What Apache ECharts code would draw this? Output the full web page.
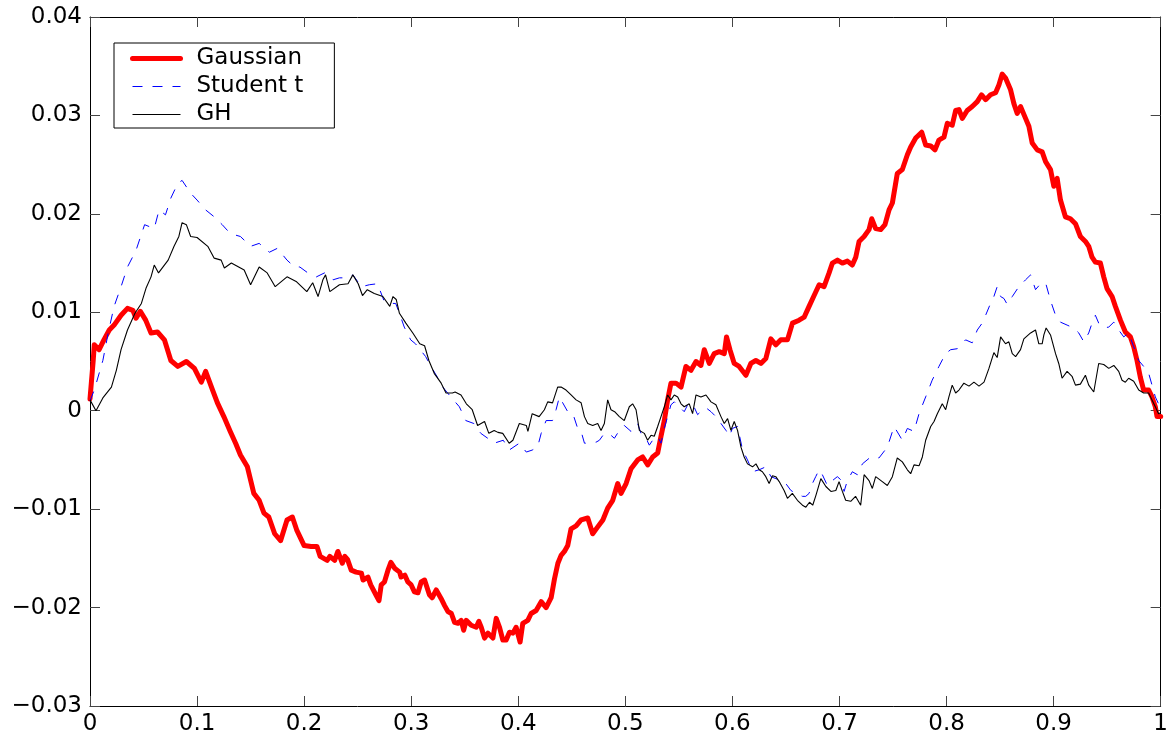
<!DOCTYPE html>
<html>
<head>
<meta charset="utf-8">
<title>Gaussian / Student t / GH</title>
<script src="https://cdn.jsdelivr.net/npm/echarts@6/dist/echarts.min.js"></script>
<style>
  html, body { margin: 0; padding: 0; background: #fff; }
  #chart { width: 1171px; height: 740px; }
</style>
</head>
<body>
<div id="chart"></div>
<script>
// Axis ranges and tick spacing
const xTicks = [0, 0.1, 0.2, 0.3, 0.4, 0.5, 0.6, 0.7, 0.8, 0.9, 1];
const yTicks = [-0.03, -0.02, -0.01, 0, 0.01, 0.02, 0.03, 0.04];

const seriesNames = ['Gaussian', 'Student t', 'GH'];

// Sample paths as [x, value] pairs
const gaussian = [[0,0.0012],[0.003,0.0051],[0.004,0.0067],[0.0085,0.0062],[0.013,0.0072],[0.018,0.0082],[0.0225,0.0087],[0.029,0.0097],[0.035,0.0104],[0.040,0.0102],[0.043,0.0094],[0.047,0.0101],[0.052,0.0092],[0.057,0.0079],[0.063,0.0080],[0.0695,0.0072],[0.0755,0.0051],[0.082,0.0045],[0.090,0.0050],[0.0975,0.0043],[0.104,0.0029],[0.108,0.0040],[0.1145,0.0021],[0.119,0.0008],[0.125,-0.0006],[0.131,-0.0021],[0.136,-0.0033],[0.1405,-0.0045],[0.147,-0.0057],[0.153,-0.0084],[0.158,-0.0091],[0.1625,-0.0104],[0.167,-0.0108],[0.1725,-0.0125],[0.178,-0.0132],[0.184,-0.0111],[0.189,-0.0108],[0.193,-0.0121],[0.200,-0.0137],[0.2065,-0.0138],[0.212,-0.0138],[0.215,-0.0148],[0.2215,-0.0152],[0.224,-0.0148],[0.2285,-0.0152],[0.2315,-0.0143],[0.2357,-0.0155],[0.238,-0.0148],[0.2405,-0.0151],[0.244,-0.0162],[0.2485,-0.0164],[0.2535,-0.0165],[0.255,-0.0172],[0.2596,-0.0169],[0.2622,-0.0177],[0.267,-0.0187],[0.2699,-0.0193],[0.272,-0.0177],[0.275,-0.0174],[0.2783,-0.0162],[0.281,-0.0154],[0.2845,-0.0160],[0.2892,-0.0164],[0.2905,-0.0169],[0.294,-0.0167],[0.2969,-0.0174],[0.300,-0.0177],[0.303,-0.0184],[0.3063,-0.0185],[0.3093,-0.0174],[0.3125,-0.0172],[0.317,-0.0187],[0.3196,-0.0190],[0.3234,-0.0182],[0.328,-0.0191],[0.3312,-0.0198],[0.3343,-0.0204],[0.3375,-0.0206],[0.3405,-0.0215],[0.3437,-0.0216],[0.3467,-0.0213],[0.349,-0.0223],[0.3514,-0.0213],[0.356,-0.0218],[0.3607,-0.0220],[0.3632,-0.0214],[0.3654,-0.0220],[0.3685,-0.0231],[0.3717,-0.0226],[0.3763,-0.0231],[0.3794,-0.0211],[0.3825,-0.0220],[0.3856,-0.0233],[0.3887,-0.0233],[0.3918,-0.0225],[0.395,-0.0226],[0.398,-0.0220],[0.4017,-0.0235],[0.4042,-0.0216],[0.4089,-0.0213],[0.412,-0.0206],[0.4167,-0.0203],[0.4214,-0.0194],[0.426,-0.0200],[0.4307,-0.0190],[0.4338,-0.0171],[0.437,-0.0155],[0.440,-0.0147],[0.4431,-0.0143],[0.4462,-0.0137],[0.4493,-0.0120],[0.454,-0.0117],[0.4587,-0.0111],[0.4649,-0.0109],[0.4695,-0.0125],[0.4742,-0.0118],[0.479,-0.0111],[0.4835,-0.0099],[0.4882,-0.0091],[0.4929,-0.0074],[0.496,-0.0084],[0.5007,-0.0074],[0.5053,-0.0059],[0.5115,-0.0050],[0.5162,-0.0047],[0.5209,-0.0055],[0.5255,-0.0047],[0.5302,-0.0043],[0.5333,-0.0026],[0.5364,-0.0010],[0.5395,0.0011],[0.5426,0.0028],[0.5473,0.0028],[0.552,0.0024],[0.5566,0.0045],[0.5613,0.0041],[0.566,0.0050],[0.5706,0.0046],[0.5737,0.0062],[0.5784,0.0048],[0.583,0.0058],[0.5877,0.0060],[0.5924,0.0058],[0.5945,0.0075],[0.5977,0.0062],[0.6017,0.0048],[0.6063,0.0045],[0.6126,0.0036],[0.6172,0.0048],[0.6219,0.0051],[0.6266,0.0048],[0.6312,0.0053],[0.6359,0.0073],[0.6406,0.0067],[0.6452,0.0072],[0.6514,0.0072],[0.6561,0.0089],[0.6623,0.0092],[0.667,0.0095],[0.6716,0.0106],[0.6763,0.0117],[0.681,0.0128],[0.6856,0.0126],[0.6903,0.0140],[0.6934,0.0150],[0.6981,0.0153],[0.7027,0.0150],[0.7074,0.0152],[0.712,0.0148],[0.7152,0.0156],[0.7183,0.0172],[0.723,0.0177],[0.7276,0.0184],[0.7301,0.0195],[0.7338,0.0185],[0.7385,0.0184],[0.7425,0.0189],[0.7463,0.0204],[0.7494,0.0211],[0.754,0.0241],[0.7587,0.0245],[0.7634,0.0260],[0.7665,0.0268],[0.7712,0.0277],[0.7768,0.0283],[0.7805,0.0270],[0.7852,0.0269],[0.7892,0.0265],[0.7929,0.0275],[0.7976,0.0278],[0.8007,0.0292],[0.8053,0.0290],[0.8085,0.0305],[0.8116,0.0306],[0.8147,0.0297],[0.8193,0.0305],[0.824,0.0309],[0.8287,0.0314],[0.8327,0.0321],[0.8365,0.0316],[0.8411,0.0321],[0.8458,0.0323],[0.8489,0.0331],[0.852,0.0342],[0.8551,0.0338],[0.8598,0.0326],[0.8629,0.0312],[0.866,0.0302],[0.8691,0.0309],[0.8738,0.0297],[0.8769,0.0289],[0.88,0.0272],[0.8847,0.0265],[0.8893,0.0263],[0.8925,0.0253],[0.8971,0.0245],[0.9002,0.0228],[0.9033,0.0236],[0.9064,0.0214],[0.911,0.0197],[0.9157,0.0195],[0.9204,0.0190],[0.925,0.0177],[0.9297,0.0172],[0.9328,0.0167],[0.9359,0.0156],[0.939,0.0151],[0.9437,0.0150],[0.9468,0.0136],[0.9499,0.0124],[0.9546,0.0116],[0.9577,0.0106],[0.9624,0.0092],[0.967,0.0080],[0.9717,0.0075],[0.9748,0.0065],[0.9779,0.0051],[0.981,0.0034],[0.9841,0.0021],[0.9888,0.0021],[0.9919,0.0014],[0.995,0.0004],[0.9966,-0.0006],[1,-0.0006]];

const studentT = [[0,0.0010],[0.004,0.0021],[0.012,0.0051],[0.017,0.0079],[0.0225,0.0106],[0.029,0.0126],[0.035,0.0146],[0.043,0.0163],[0.051,0.0189],[0.060,0.0185],[0.0645,0.0204],[0.0705,0.0199],[0.0755,0.0216],[0.082,0.0231],[0.086,0.0234],[0.094,0.0221],[0.100,0.0214],[0.108,0.0204],[0.116,0.0197],[0.1235,0.0189],[0.131,0.0180],[0.1405,0.0177],[0.150,0.0167],[0.158,0.0170],[0.1675,0.0161],[0.175,0.0165],[0.184,0.0153],[0.191,0.0146],[0.196,0.0146],[0.2035,0.0140],[0.2115,0.0136],[0.219,0.0140],[0.227,0.0133],[0.233,0.0135],[0.2415,0.0135],[0.2455,0.0138],[0.2535,0.0126],[0.261,0.0128],[0.2685,0.0129],[0.2745,0.0112],[0.2795,0.0109],[0.2855,0.0109],[0.289,0.0099],[0.2935,0.0085],[0.2995,0.0072],[0.304,0.0068],[0.3135,0.0055],[0.3185,0.0045],[0.325,0.0033],[0.3295,0.0024],[0.337,0.0014],[0.345,0.0004],[0.351,-0.0010],[0.3585,-0.0013],[0.365,-0.0023],[0.3715,-0.0028],[0.3775,-0.0033],[0.386,-0.0030],[0.3915,-0.0040],[0.401,-0.0033],[0.4075,-0.0042],[0.413,-0.0040],[0.418,-0.0037],[0.4214,-0.0023],[0.426,-0.0010],[0.432,-0.0010],[0.4353,0.0001],[0.4384,0.0014],[0.4462,-0.0001],[0.451,-0.0003],[0.4555,-0.0018],[0.4587,-0.0021],[0.4618,-0.0033],[0.4665,-0.0033],[0.4726,-0.0032],[0.4758,-0.0030],[0.4804,-0.0023],[0.4866,-0.0025],[0.4898,-0.0028],[0.4944,-0.0020],[0.499,-0.0015],[0.5053,-0.0021],[0.507,-0.0023],[0.5115,-0.0013],[0.5146,-0.0023],[0.5193,-0.0028],[0.5224,-0.0035],[0.5255,-0.0030],[0.5302,-0.0026],[0.5333,-0.0033],[0.5364,-0.0018],[0.5395,-0.0006],[0.5426,0.0006],[0.5457,0.0009],[0.5504,0.0004],[0.555,-0.0001],[0.5582,0.0006],[0.5628,0.0007],[0.5675,-0.0004],[0.5722,0.0001],[0.5753,0.0003],[0.58,-0.0001],[0.5846,-0.0006],[0.5893,-0.0013],[0.594,-0.0020],[0.5971,-0.0026],[0.6,-0.0018],[0.6048,-0.0016],[0.6095,-0.0040],[0.6141,-0.0050],[0.6188,-0.0062],[0.625,-0.0060],[0.6312,-0.0057],[0.636,-0.0067],[0.6406,-0.0069],[0.645,-0.0071],[0.6499,-0.0074],[0.6546,-0.0081],[0.6592,-0.0084],[0.6654,-0.0087],[0.6685,-0.0087],[0.6716,-0.0084],[0.6747,-0.0074],[0.6778,-0.0067],[0.681,-0.0060],[0.684,-0.0065],[0.6887,-0.0076],[0.6934,-0.0071],[0.698,-0.0067],[0.7011,-0.0070],[0.7043,-0.0082],[0.7074,-0.0071],[0.712,-0.0062],[0.7167,-0.0065],[0.7214,-0.0054],[0.7292,-0.0047],[0.7369,-0.0048],[0.7447,-0.0037],[0.751,-0.0016],[0.7587,-0.0030],[0.7634,-0.0018],[0.7696,-0.0021],[0.7743,-0.0003],[0.7805,0.0014],[0.7866,0.0031],[0.7929,0.0045],[0.7991,0.0058],[0.8038,0.0062],[0.81,0.0063],[0.8178,0.0072],[0.824,0.0069],[0.8287,0.0082],[0.8333,0.0089],[0.8365,0.0097],[0.8411,0.0109],[0.8442,0.0116],[0.8473,0.0126],[0.8505,0.0116],[0.8536,0.0114],[0.8567,0.0108],[0.8614,0.0116],[0.8675,0.0126],[0.8738,0.0133],[0.8785,0.0138],[0.8831,0.0123],[0.8878,0.0129],[0.8925,0.0130],[0.8971,0.0112],[0.9018,0.0097],[0.9064,0.0090],[0.9126,0.0087],[0.9188,0.0084],[0.9235,0.0079],[0.9282,0.0070],[0.9328,0.0079],[0.9359,0.0089],[0.939,0.0097],[0.9421,0.0089],[0.9468,0.0084],[0.9515,0.0085],[0.9562,0.0090],[0.9608,0.0082],[0.9655,0.0075],[0.97,0.0079],[0.9748,0.0065],[0.9795,0.0051],[0.9841,0.0045],[0.9888,0.0038],[0.9919,0.0026],[0.995,0.0014],[0.998,0.0007],[1,0.0002]];

const gh = [[0,0.0011],[0.0056,0.0000],[0.012,0.0013],[0.02,0.0024],[0.0246,0.0041],[0.029,0.0062],[0.035,0.0082],[0.042,0.0099],[0.048,0.0109],[0.0525,0.0125],[0.057,0.0136],[0.060,0.0148],[0.064,0.0140],[0.073,0.0153],[0.0785,0.0167],[0.083,0.0177],[0.086,0.0191],[0.090,0.0189],[0.094,0.0177],[0.100,0.0176],[0.11,0.0167],[0.116,0.0155],[0.1225,0.0153],[0.1255,0.0145],[0.132,0.0150],[0.144,0.0143],[0.150,0.0128],[0.158,0.0146],[0.1655,0.0140],[0.173,0.0126],[0.184,0.0136],[0.193,0.0131],[0.2025,0.0121],[0.208,0.0130],[0.213,0.0116],[0.2175,0.0133],[0.22,0.0138],[0.224,0.0121],[0.233,0.0128],[0.241,0.0129],[0.2455,0.0138],[0.2505,0.0129],[0.2545,0.0117],[0.259,0.0123],[0.2655,0.0119],[0.2735,0.0116],[0.280,0.0106],[0.283,0.0116],[0.286,0.0113],[0.289,0.0099],[0.295,0.0089],[0.3015,0.0079],[0.308,0.0068],[0.3125,0.0066],[0.3165,0.0051],[0.3215,0.0038],[0.328,0.0028],[0.3325,0.0018],[0.3385,0.0018],[0.341,0.0019],[0.3465,0.0016],[0.3515,0.0007],[0.357,0.0001],[0.362,-0.0015],[0.3685,-0.0011],[0.3725,-0.0023],[0.3775,-0.0020],[0.381,-0.0022],[0.3855,-0.0023],[0.3915,-0.0033],[0.395,-0.0030],[0.401,-0.0013],[0.4075,-0.0015],[0.409,-0.0021],[0.413,-0.0003],[0.4195,-0.0006],[0.4244,0.0001],[0.4275,0.0009],[0.432,0.0008],[0.4368,0.0024],[0.44,0.0024],[0.4446,0.0021],[0.4493,0.0016],[0.454,0.0011],[0.4587,0.0008],[0.4618,-0.0006],[0.4649,-0.0013],[0.4695,-0.0015],[0.4742,-0.0013],[0.4773,-0.0020],[0.4804,-0.0013],[0.4835,0.0011],[0.4866,0.0001],[0.49,-0.0001],[0.4944,-0.0006],[0.499,-0.0010],[0.5037,0.0004],[0.5068,0.0007],[0.51,0.0001],[0.5131,-0.0020],[0.5177,-0.0023],[0.5208,-0.0030],[0.524,-0.0025],[0.527,-0.0026],[0.5302,-0.0016],[0.5333,-0.0006],[0.5364,0.0004],[0.5395,0.0016],[0.5426,0.0011],[0.5457,0.0016],[0.5489,0.0014],[0.552,0.0007],[0.555,0.0004],[0.5597,0.0007],[0.5628,-0.0003],[0.566,0.0016],[0.5706,0.0014],[0.5753,0.0016],[0.58,0.0009],[0.5846,0.0006],[0.5893,-0.0006],[0.5924,-0.0013],[0.5955,-0.0008],[0.5986,-0.0020],[0.6017,-0.0011],[0.6048,-0.0020],[0.608,-0.0037],[0.611,-0.0047],[0.6141,-0.0054],[0.6188,-0.0057],[0.622,-0.0054],[0.625,-0.0060],[0.628,-0.0062],[0.6312,-0.0067],[0.6343,-0.0074],[0.6374,-0.0066],[0.6405,-0.0067],[0.6437,-0.0072],[0.6483,-0.0081],[0.6514,-0.0089],[0.656,-0.0084],[0.6607,-0.0091],[0.6654,-0.0096],[0.6686,-0.0098],[0.672,-0.0093],[0.675,-0.0096],[0.678,-0.0086],[0.6826,-0.0069],[0.6873,-0.0077],[0.692,-0.0082],[0.6966,-0.0081],[0.6996,-0.0072],[0.7027,-0.0082],[0.7058,-0.0091],[0.7105,-0.0092],[0.715,-0.0087],[0.7198,-0.0096],[0.723,-0.0065],[0.7276,-0.0071],[0.7307,-0.0079],[0.7338,-0.0067],[0.74,-0.0072],[0.7447,-0.0076],[0.7494,-0.0067],[0.754,-0.0048],[0.7587,-0.0052],[0.7634,-0.0060],[0.7665,-0.0064],[0.7696,-0.0055],[0.7743,-0.0056],[0.7774,-0.0047],[0.7805,-0.0030],[0.7852,-0.0016],[0.7883,-0.0011],[0.7914,-0.0003],[0.796,0.0007],[0.7992,0.0001],[0.8022,0.0014],[0.8053,0.0026],[0.8085,0.0018],[0.8116,0.0021],[0.8162,0.0028],[0.821,0.0025],[0.8256,0.0029],[0.8303,0.0025],[0.835,0.0029],[0.8396,0.0043],[0.8442,0.0059],[0.8473,0.0054],[0.8505,0.0075],[0.8551,0.0068],[0.8582,0.0070],[0.8614,0.0058],[0.8645,0.0055],[0.8691,0.0062],[0.8722,0.0073],[0.8785,0.0079],[0.8831,0.0082],[0.8862,0.0068],[0.8893,0.0068],[0.8909,0.0077],[0.893,0.0084],[0.8971,0.0077],[0.9018,0.0058],[0.9048,0.0048],[0.9079,0.0033],[0.9126,0.0040],[0.9172,0.0035],[0.9204,0.0026],[0.925,0.0027],[0.9297,0.0036],[0.9328,0.0026],[0.9375,0.0019],[0.9421,0.0048],[0.9468,0.0047],[0.9515,0.0043],[0.9562,0.0046],[0.9608,0.0040],[0.9639,0.0031],[0.967,0.0029],[0.9701,0.0033],[0.9748,0.0030],[0.9795,0.0021],[0.9841,0.0018],[0.9888,0.0018],[0.9919,0.0011],[0.995,0.0004],[0.998,-0.0003],[1,-0.0002]];

const FONT = 'DejaVu Sans';

function yLabel(v) {
  if (Math.abs(v) < 1e-9) return '0';
  return v.toFixed(2).replace('-', '\u2212');
}
function xLabel(v) {
  if (Math.abs(v) < 1e-9) return '0';
  if (Math.abs(v - 1) < 1e-9) return '1';
  return v.toFixed(1);
}

const tickStyle = { show: true, inside: true, length: 10, lineStyle: { color: '#444', width: 1 } };
const axisLineStyle = { show: true, onZero: false, lineStyle: { color: '#000', width: 1 } };

const xMin = xTicks[0], xMax = xTicks[xTicks.length - 1];
const yMin = yTicks[0], yMax = yTicks[yTicks.length - 1];
const xStep = +(xTicks[1] - xTicks[0]).toFixed(4);
const yStep = +(yTicks[1] - yTicks[0]).toFixed(4);

const chart = echarts.init(document.getElementById('chart'), null, { renderer: 'canvas' });

chart.setOption({
  animation: false,
  backgroundColor: '#fff',
  textStyle: { fontFamily: FONT },
  grid: { left: 90, top: 17, right: 9, bottom: 34, containLabel: false },
  xAxis: [
    {
      type: 'value', min: xMin, max: xMax, interval: xStep, position: 'bottom',
      axisLine: axisLineStyle, axisTick: tickStyle, splitLine: { show: false },
      axisLabel: { color: '#000', fontFamily: FONT, fontSize: 23, margin: 7, formatter: xLabel }
    },
    {
      type: 'value', min: xMin, max: xMax, interval: xStep, position: 'top',
      axisLine: axisLineStyle, axisTick: tickStyle, splitLine: { show: false },
      axisLabel: { show: false }
    }
  ],
  yAxis: [
    {
      type: 'value', min: yMin, max: yMax, interval: yStep, position: 'left',
      axisLine: axisLineStyle, axisTick: tickStyle, splitLine: { show: false },
      axisLabel: { color: '#000', fontFamily: FONT, fontSize: 23, margin: 8, formatter: yLabel }
    },
    {
      type: 'value', min: yMin, max: yMax, interval: yStep, position: 'right',
      axisLine: axisLineStyle, axisTick: tickStyle, splitLine: { show: false },
      axisLabel: { show: false }
    }
  ],
  legend: {
    show: true,
    data: seriesNames,
    orient: 'vertical',
    left: 114,
    top: 43,
    backgroundColor: '#fff',
    borderColor: '#000',
    borderWidth: 1,
    padding: [4, 31, 2, 16],
    itemGap: 5,
    itemWidth: 48,
    itemHeight: 14,
    itemStyle: { opacity: 0 },
    lineStyle: { width: 'inherit', type: 'inherit' },
    textStyle: { color: '#000', fontFamily: FONT, fontSize: 23, lineHeight: 22, padding: [0, 0, 0, 11] }
  },
  series: [
    {
      name: seriesNames[0], type: 'line', data: gaussian,
      showSymbol: false, symbol: 'none',
      lineStyle: { color: '#ff0000', width: 5, join: 'round', cap: 'round' },
      itemStyle: { color: '#ff0000' }, z: 2
    },
    {
      name: seriesNames[1], type: 'line', data: studentT,
      showSymbol: false, symbol: 'none',
      lineStyle: { color: '#0000ff', width: 1, type: [10, 10] },
      itemStyle: { color: '#0000ff' }, z: 3
    },
    {
      name: seriesNames[2], type: 'line', data: gh,
      showSymbol: false, symbol: 'none',
      lineStyle: { color: '#000000', width: 1.1 },
      itemStyle: { color: '#000000' }, z: 4
    }
  ]
});
</script>
</body>
</html>
